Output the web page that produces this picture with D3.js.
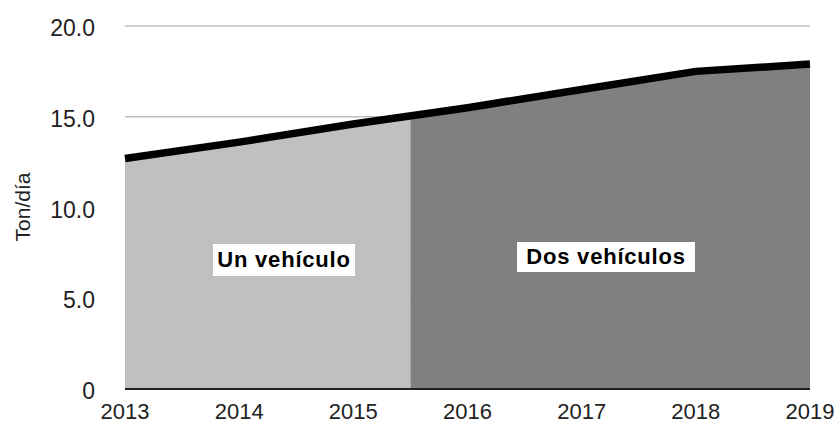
<!DOCTYPE html>
<html><head><meta charset="utf-8">
<script src="https://cdn.jsdelivr.net/npm/d3@7/dist/d3.min.js"></script>
<style>body{margin:0;background:#fff}</style>
</head><body><svg id="c" width="838" height="426"></svg>
<script>
const years = [2013, 2014, 2015, 2016, 2017, 2018, 2019];
const values = [12.7, 13.6, 14.6, 15.5, 16.5, 17.5, 17.9];
const yTicks = [0, 5, 10, 15, 20];
const yTickLabels = ["0", "5.0", "10.0", "15.0", "20.0"];
const splitYear = 2015.5;
const regionLabels = ["Un vehículo", "Dos vehículos"];
const yTitle = "Ton/día";

const svg = d3.select("#c");
const m = {l:125, r:810, t:26, b:389};
const x = d3.scaleLinear().domain([2013, 2019]).range([m.l, m.r]);
const y = d3.scaleLinear().domain([0, 20]).range([m.b, m.t]);
const data = years.map((yr,i)=>({yr, v: values[i]}));
const font = "Liberation Sans, Arial, sans-serif";

// gridlines
svg.append("g").selectAll("line").data(yTicks.filter(d=>d>0)).join("line")
  .attr("x1", m.l).attr("x2", m.r).attr("y1", d=>y(d)).attr("y2", d=>y(d))
  .attr("stroke", "#c0c0c0").attr("stroke-width", 1.5);

const interp = t => {
  for (let i=0;i<data.length-1;i++){
    if (t>=data[i].yr && t<=data[i+1].yr){
      const f=(t-data[i].yr)/(data[i+1].yr-data[i].yr);
      return data[i].v+f*(data[i+1].v-data[i].v);
    }
  }
};
const splitPt = {yr: splitYear, v: interp(splitYear)};
const left = data.filter(d=>d.yr<=splitYear).concat([splitPt]);
const right = [splitPt].concat(data.filter(d=>d.yr>=splitYear));
const area = d3.area().x(d=>x(d.yr)).y0(y(0)).y1(d=>y(d.v));
svg.append("path").datum(left).attr("d", area).attr("fill", "#c0c0c0");
svg.append("path").datum(right).attr("d", area).attr("fill", "#808080");

// top line
svg.append("path").datum(data).attr("d", d3.line().x(d=>x(d.yr)).y(d=>y(d.v)))
  .attr("fill","none").attr("stroke","#000").attr("stroke-width",7.5);

// baseline axis
svg.append("line").attr("x1", m.l).attr("x2", m.r).attr("y1", y(0)).attr("y2", y(0))
  .attr("stroke", "#222").attr("stroke-width", 2);

// y tick labels
svg.append("g").selectAll("text").data(yTicks).join("text")
  .attr("x", 95).attr("y", d=>y(d)+2).attr("dy", "0.35em").attr("text-anchor","end")
  .attr("font-family", font).attr("font-size", 23)
  .attr("fill","#222").text((d,i)=>yTickLabels[i]);

// x tick labels
svg.append("g").selectAll("text").data(years).join("text")
  .attr("x", d=>x(d)).attr("y", 419).attr("text-anchor","middle")
  .attr("font-family", font).attr("font-size", 22)
  .attr("fill","#222").text(d=>d);

// y title
svg.append("text").attr("transform","translate(30,207) rotate(-90)")
  .attr("text-anchor","middle").attr("font-family", font)
  .attr("font-size", 21).attr("fill","#222").text(yTitle);

// region labels
const boxes = [{x:213, y:244, w:142, h:32, ty:267}, {x:517, y:242, w:178, h:30, ty:264}];
boxes.forEach((b,i)=>{
  svg.append("rect").attr("x", b.x).attr("y", b.y).attr("width", b.w).attr("height", b.h).attr("fill","#fff");
  svg.append("text").attr("x", b.x+b.w/2).attr("y", b.ty).attr("text-anchor","middle")
    .attr("font-family", font).attr("font-weight","bold").attr("letter-spacing", 0.8)
    .attr("font-size", 22).attr("fill","#000").text(regionLabels[i]);
});
</script></body></html>
